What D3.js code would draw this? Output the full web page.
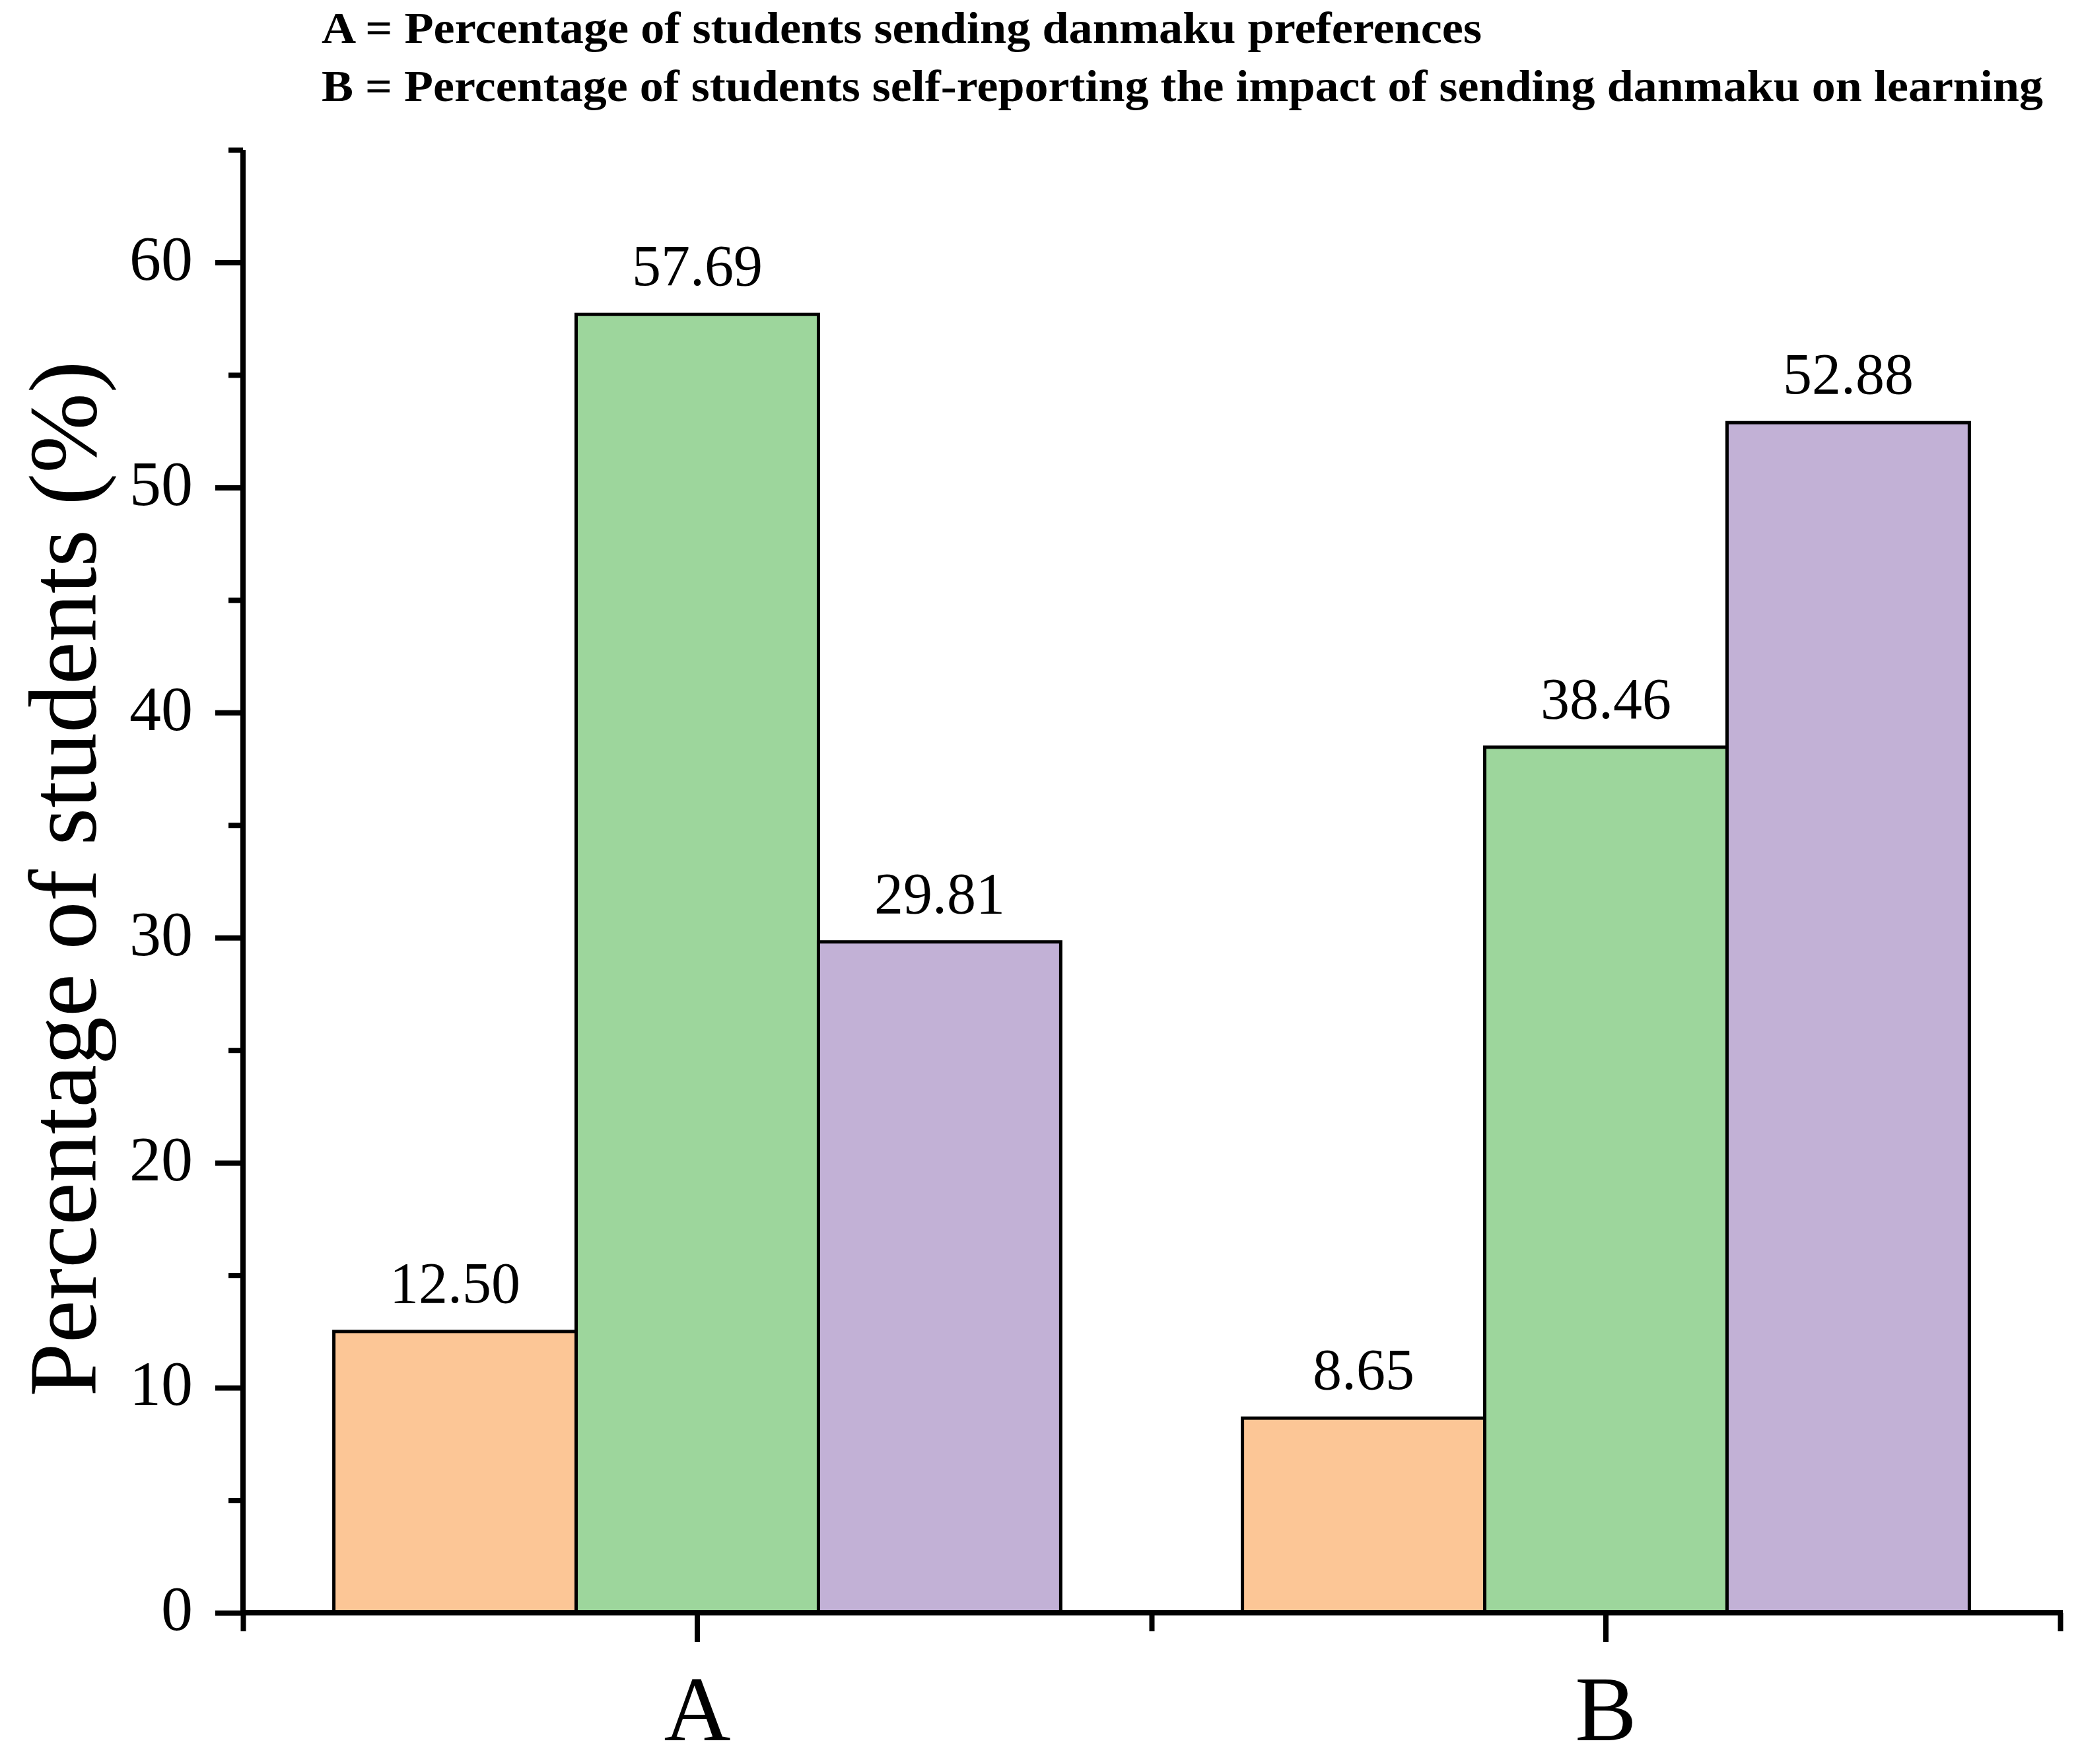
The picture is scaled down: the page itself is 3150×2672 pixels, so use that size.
<!DOCTYPE html>
<html>
<head>
<meta charset="utf-8">
<script src="https://cdn.jsdelivr.net/npm/d3@7"></script>
<style>
  body { margin: 0; background: #fff; }
  svg { display: block; }
</style>
</head>
<body>
<div id="chart"></div>
<script>
// data
const categories = ["A", "B"];
const seriesNames = ["s1", "s2", "s3"];
const seriesA = [12.50, 57.69, 29.81];
const seriesB = [8.65, 38.46, 52.88];
const seriesColors = ["#fcc696", "#9dd69c", "#c2b1d6"];
const yMajorTicks = [0, 10, 20, 30, 40, 50, 60];
const yMinorTicks = [5, 15, 25, 35, 45, 55, 65];
const titleLines = [
  "A = Percentage of students sending danmaku preferences",
  "B = Percentage of students self-reporting the impact of sending danmaku on learning"
];
const yTitle = "Percentage of students (%)";

const valuesByCategory = { A: seriesA, B: seriesB };

const width = 3150;
const height = 2672;
const plot = { left: 368, right: 3120, top: 227, bottom: 2443 };
const serif = "'Liberation Serif', 'Times New Roman', serif";

const svg = d3.select("#chart")
  .append("svg")
  .attr("width", width)
  .attr("height", height)
  .style("font-family", serif);

svg.append("rect").attr("width", width).attr("height", height).attr("fill", "#fff");

const xScale = d3.scaleBand()
  .domain(categories)
  .range([plot.left, plot.right])
  .padding(0);

const xInner = d3.scaleBand()
  .domain(seriesNames)
  .range([xScale.bandwidth() * 0.1, xScale.bandwidth() * 0.9])
  .padding(0);

// band edges for the small ticks on the x axis
const xEdges = d3.scaleLinear()
  .domain([0, categories.length])
  .range([plot.left, plot.right]);

const yScale = d3.scaleLinear()
  .domain([0, 65])
  .range([plot.bottom, plot.top]);

const color = d3.scaleOrdinal().domain(seriesNames).range(seriesColors);

// bars
const groups = svg.append("g")
  .selectAll("g")
  .data(categories)
  .join("g")
  .attr("transform", (d) => `translate(${xScale(d)},0)`);

const barData = (cat) => valuesByCategory[cat].map((v, i) => ({ key: seriesNames[i], value: v }));

groups.selectAll("rect")
  .data((d) => barData(d))
  .join("rect")
  .attr("x", (d) => xInner(d.key))
  .attr("y", (d) => yScale(d.value))
  .attr("width", xInner.bandwidth())
  .attr("height", (d) => yScale(0) - yScale(d.value))
  .attr("fill", (d) => color(d.key))
  .attr("stroke", "#000")
  .attr("stroke-width", 5);

groups.selectAll("text")
  .data((d) => barData(d))
  .join("text")
  .attr("x", (d) => xInner(d.key) + xInner.bandwidth() / 2)
  .attr("y", (d) => yScale(d.value) - 44)
  .attr("text-anchor", "middle")
  .attr("font-size", 88)
  .attr("fill", "#000")
  .text((d) => d.value.toFixed(2));

// y axis
const yAxis = svg.append("g")
  .attr("transform", `translate(${plot.left},0)`)
  .call(d3.axisLeft(yScale)
    .tickValues(yMajorTicks)
    .tickSize(42)
    .tickSizeOuter(0)
    .tickPadding(34)
    .tickFormat(d3.format("d")));

yAxis.select(".domain").remove();
yAxis.selectAll("line").attr("stroke", "#000").attr("stroke-width", 8);
yAxis.selectAll("text")
  .attr("font-family", serif)
  .attr("font-size", 96)
  .attr("fill", "#000")
  .attr("dy", "0.27em");

const yMinor = svg.append("g")
  .attr("transform", `translate(${plot.left},0)`)
  .call(d3.axisLeft(yScale).tickValues(yMinorTicks).tickSize(22).tickFormat(""));
yMinor.select(".domain").remove();
yMinor.selectAll("line").attr("stroke", "#000").attr("stroke-width", 8);

// x axis
const xMinor = svg.append("g")
  .attr("transform", `translate(0,${plot.bottom})`)
  .call(d3.axisBottom(xEdges).tickValues(d3.range(categories.length + 1)).tickSize(28).tickFormat(""));
xMinor.select(".domain").remove();
xMinor.selectAll("line").attr("stroke", "#000").attr("stroke-width", 8);

const xAxis = svg.append("g")
  .attr("transform", `translate(0,${plot.bottom})`)
  .call(d3.axisBottom(xScale).tickSize(44).tickSizeOuter(0).tickPadding(50));
xAxis.select(".domain").remove();
xAxis.selectAll("line").attr("stroke", "#000").attr("stroke-width", 8);
xAxis.selectAll("text")
  .attr("font-family", serif)
  .attr("font-size", 140)
  .attr("fill", "#000");

// axis lines
svg.append("line")
  .attr("x1", plot.left).attr("x2", plot.left)
  .attr("y1", yScale(65)).attr("y2", plot.bottom + 4)
  .attr("stroke", "#000").attr("stroke-width", 8);
svg.append("line")
  .attr("x1", plot.left - 4).attr("x2", plot.right + 4)
  .attr("y1", plot.bottom).attr("y2", plot.bottom)
  .attr("stroke", "#000").attr("stroke-width", 8);

// y title
svg.append("text")
  .attr("transform", `translate(145, ${(2116 + 546) / 2}) rotate(-90)`)
  .attr("text-anchor", "middle")
  .attr("font-size", 146)
  .attr("fill", "#000")
  .text(yTitle);

// heading lines
const titleWidths = [1757, 2607];
svg.append("g")
  .selectAll("text")
  .data(titleLines)
  .join("text")
  .attr("x", 487)
  .attr("y", (d, i) => 65 + i * 88)
  .attr("font-size", 68)
  .attr("font-weight", "bold")
  .attr("fill", "#000")
  .attr("textLength", (d, i) => titleWidths[i])
  .attr("lengthAdjust", "spacingAndGlyphs")
  .text((d) => d);
</script>
</body>
</html>
